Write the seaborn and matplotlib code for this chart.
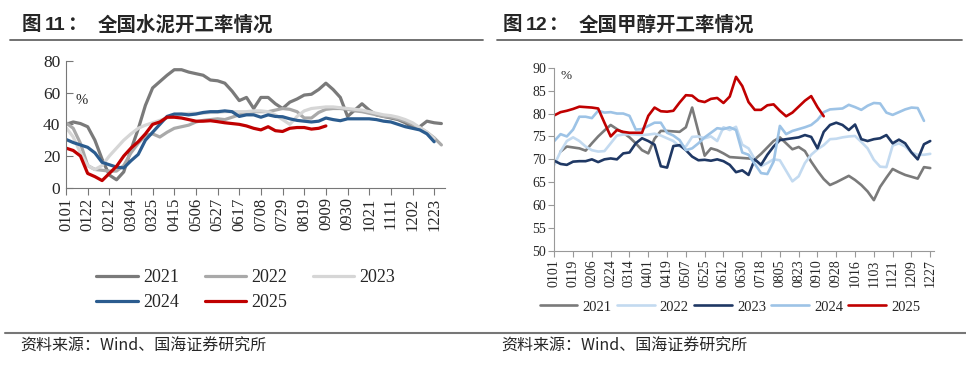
import numpy as np
import pandas as pd
import matplotlib
matplotlib.use('Agg')
import matplotlib.pyplot as plt
import seaborn as sns

nan = np.nan

# ---- 图11 全国水泥开工率 (weekly, %) ----
cement_ticks = ['0101', '0122', '0212', '0304', '0325', '0415', '0506', '0527', '0617',
                '0708', '0729', '0819', '0909', '0930', '1021', '1111', '1202', '1223']
cement_2021 = [40, 41.5, 40.5, 38.5, 30, 18, 8, 5, 10, 24, 37, 52, 63, 67, 71, 74.5, 74.5, 73,
               72, 71, 68, 67.5, 66, 61, 55, 57, 50, 57, 57, 53, 50, 54, 56, 58.5, 59, 62, 66,
               62, 57, 45, 49, 53, 49, 46, 45, 44, 43, 41, 38, 38.5, 42, 41, 40.5]
cement_2022 = [41, 37.5, 28, 14, 11.5, 11, 10.5, 10.5, 14, 22, 28, 33, 34, 32, 35, 37.5, 38.5,
               39.5, 41.5, 42.5, 43, 43.5, 43, 44.5, 46, 47, 48, 48, 48, 49, 50, 49.5, 48, 44,
               44, 47.5, 49.5, 50, 50, 49.5, 48.5, 48, 47, 46, 45, 44.5, 43.5, 42, 40, 38, 35,
               31.5, 27]
cement_2023 = [38, 32, 22, 14, 11.5, 14, 20, 25, 30, 34, 37.5, 39.5, 41, 42.5, 44, 46, 46.5,
               47, 47, 47, 47.5, 47.5, 48, 48, 48, 48, 48.5, 48.5, 48, 46, 43, 40, 45, 48.5,
               50, 50.5, 51, 51, 50.5, 50, 49.5, 49, 48, 47, 46, 45.5, 44.5, 43, 41, 38, 35,
               31, nan]
cement_2024 = [30.5, 28.5, 27, 25.5, 22, 16, 14.5, 13, 12.5, 17, 21, 30, 35, 40, 45, 46.5,
               46.5, 46, 46.5, 47.5, 48, 48, 48.5, 48, 45, 46, 46, 44.5, 46, 45, 44.8, 43.5,
               42.5, 42, 41.5, 42, 44, 43, 42.3, 43.5, 43.5, 43.5, 43.5, 43, 42, 41.5, 40,
               38.5, 37.5, 36.5, 34, 29, nan]
cement_2025 = [25, 23.5, 20, 9, 7, 4.5, 9, 13.5, 20, 25, 29, 34, 40, 41.5, 44.5, 44.5, 44, 43,
               42, 42, 42.3, 41.7, 41, 40.5, 40, 39, 37.5, 36.5, 38.5, 36, 35.5, 37.5, 38, 38,
               37, 37.5, 39] + [nan] * 16

# ---- 图12 全国甲醇开工率 (%) ----
meth_ticks = ['0101', '0119', '0206', '0224', '0314', '0401', '0419', '0507', '0525', '0612',
              '0630', '0718', '0805', '0823', '0910', '0928', '1016', '1103', '1121', '1209',
              '1227']
meth_2021 = [nan, 71.7, 72.8, 72.6, 72.4, 71.9, 73.5, 75, 76.3, 77.5, 76.6, 75.8, 74.8, 73.5,
             72, 71.3, 74.5, 76.2, 76.2, 76.1, 76, 77, 81.3, 76, 70.8, 72.4, 72, 71.3, 70.5,
             70.4, 70.3, 70.2, 70, 71.2, 72.6, 74, 74.8, 73.5, 72.2, 72.7, 71.8, 69.5, 67.5,
             65.7, 64.4, 65, 65.7, 66.4, 65.5, 64.4, 63, 61.1, 64, 66, 67.9, 67.2, 66.6, 66.2,
             65.8, 68.3, 68.1]
meth_2022 = [68.8, 71.7, 74, 74.8, 74, 72.8, 72, 71.7, 71.8, 73.5, 75.2, 75.4, 75.5, 75.4, 75.3,
             75.4, 75.6, 75.2, 74.6, 74, 72.8, 72.8, 74.9, 75, 74.6, 75, 74, 77, 76.4, 77.1,
             73.2, 72.4, 70, 68.5, 69.2, 70, 69.8, 67.5, 65.2, 66.3, 69.2, 71, 72.2, 73.1, 74.4,
             74.5, 74.8, 75, 75.1, 73.8, 72.4, 69.9, 68.4, 68.3, 73, 73.5, 72.8, 71.5, 71, 71,
             71.2]
meth_2023 = [69.7, 69.0, 68.8, 69.5, 69.6, 69.6, 70, 69.4, 70, 70.2, 70, 71.3, 71.5, 73.5, 74.6,
             74, 73.2, 68.5, 68.2, 72.9, 73.1, 72, 70.6, 69.8, 69.9, 69.7, 70, 69.6, 68.8, 67.2,
             67.6, 66.6, 70, 68.8, 71, 72.8, 74.2, 74.4, 74.6, 74.8, 75.3, 74.9, 72.4, 76, 77.5,
             78, 77.5, 76.4, 77.6, 74.4, 74, 74.4, 74.6, 75.3, 73.5, 74.3, 73.5, 71.5, 70, 73.3,
             74]
meth_2024 = [74, 75.5, 75, 76.5, 79.3, 79.3, 79, 80.6, 80.2, 80.3, 80, 80, 79.5, 76.5, 76.6,
             77.3, 78, 78, 75.8, 75.2, 74.2, 72, 72.4, 73.5, 74.8, 75.8, 76.8, 76.6, 77, 76.4,
             71.5, 71, 69, 67, 66.8, 69.5, 77.3, 75.5, 76.2, 76.6, 77, 77.5, 78.6, 80.3, 80.9,
             81, 81.1, 81.9, 81.4, 80.8, 81.7, 82.3, 82.2, 80.2, 79.7, 80.3, 80.9, 81.3, 81.2,
             78.4, nan]
meth_2025 = [79.6, 80.3, 80.6, 81, 81.5, 81.4, 81.3, 81.1, 78, 75, 76.4, 76, 75.8, 75.8, 75.8,
             79.5, 81.3, 80.5, 80.4, 80.6, 82.4, 84, 83.9, 82.8, 82.5, 83.2, 83.4, 82.3, 83.7,
             88, 86, 82.5, 80.8, 80.8, 81.8, 82, 80.6, 79.4, 80.2, 81.5, 82.8, 83.8, 81.4,
             79.4] + [nan] * 17

years = ['2021', '2022', '2023', '2024', '2025']
cement_pal = {'2021': '#7a7a7a', '2022': '#a9a9a9', '2023': '#d6d6d6',
              '2024': '#2b5c8f', '2025': '#c00000'}
meth_pal = {'2021': '#7a7a7a', '2022': '#c3daf0', '2023': '#1f3864',
            '2024': '#9dc3e6', '2025': '#c00000'}


def to_long(series):
    frames = []
    for yr, vals in zip(years, series):
        frames.append(pd.DataFrame({'x': np.arange(len(vals)), 'v': vals, 'year': yr}))
    return pd.concat(frames, ignore_index=True).dropna()


cement = to_long([cement_2021, cement_2022, cement_2023, cement_2024, cement_2025])
meth = to_long([meth_2021, meth_2022, meth_2023, meth_2024, meth_2025])

sns.set_style('ticks')
plt.rcParams['font.family'] = ['Liberation Serif', 'DejaVu Sans']
cjk = ['Noto Sans CJK SC', 'DejaVu Sans']

W, H = 966, 368
fig = plt.figure(figsize=(W / 100, H / 100), dpi=100)

# left chart
ax1 = fig.add_axes([66 / W, 1 - 187.7 / H, (445 - 66) / W, (187.7 - 61) / H])
sns.lineplot(data=cement, x='x', y='v', hue='year', palette=cement_pal, hue_order=years,
             linewidth=2.3, sort=False, ax=ax1)
ax1.set_xlim(0, 52.5)
ax1.set_ylim(0, 80)
ax1.set_yticks(range(0, 81, 20))
ax1.set_xticks(range(0, 52, 3))
ax1.set_xticklabels(cement_ticks, rotation=90, fontsize=12)
ax1.tick_params(axis='y', direction='in', length=5, labelsize=12.5, color='#777777', pad=4)
ax1.tick_params(axis='x', direction='out', length=5, color='#777777', pad=2)
ax1.set_xlabel('')
ax1.set_ylabel('')
sns.despine(ax=ax1)
for s in ['left', 'bottom']:
    ax1.spines[s].set_color('#777777')
ax1.text(82 / W, 1 - 100 / H, '%', transform=fig.transFigure, fontsize=10.5,
         ha='center', va='center')
h, l = ax1.get_legend_handles_labels()
idx = [0, 3, 1, 4, 2]
ax1.legend([h[i] for i in idx], [l[i] for i in idx], ncol=3, loc='center',
           bbox_to_anchor=(246 / W, 1 - 290 / H), bbox_transform=fig.transFigure,
           frameon=False, fontsize=13, handlelength=2.3, handletextpad=0.3,
           columnspacing=1.4, labelspacing=0.45)

# right chart
ax2 = fig.add_axes([554.3 / W, 1 - 251 / H, (934 - 554.3) / W, (251 - 67.7) / H])
sns.lineplot(data=meth, x='x', y='v', hue='year', palette=meth_pal, hue_order=years,
             linewidth=1.9, sort=False, ax=ax2)
ax2.set_xlim(0, 60.6)
ax2.set_ylim(50, 90)
ax2.set_yticks(range(50, 91, 5))
ax2.set_xticks(range(0, 61, 3))
ax2.set_xticklabels(meth_ticks, rotation=90, fontsize=10)
ax2.tick_params(axis='y', direction='out', length=4, labelsize=10, color='#999999', pad=2)
ax2.tick_params(axis='x', direction='out', length=4, color='#999999', pad=2)
ax2.set_xlabel('')
ax2.set_ylabel('')
sns.despine(ax=ax2)
for s in ['left', 'bottom']:
    ax2.spines[s].set_color('#999999')
ax2.text(566 / W, 1 - 76 / H, '%', transform=fig.transFigure, fontsize=9.5,
         ha='center', va='center')
h, l = ax2.get_legend_handles_labels()
ax2.legend(h, l, ncol=5, loc='center', bbox_to_anchor=(730 / W, 1 - 307 / H),
           bbox_transform=fig.transFigure, frameon=False, fontsize=10.5,
           handlelength=2.6, handletextpad=0.35, columnspacing=0.35)

# titles and source notes
ty = 1 - 25 / H
for x0, num, name in [(22, '11', '全国水泥开工率情况'), (503, '12', '全国甲醇开工率情况')]:
    fig.text(x0 / W, ty, '图', family=cjk, fontsize=14, fontweight='bold', va='center')
    fig.text((x0 + 23) / W, ty, num, family='Liberation Sans', fontsize=14,
             fontweight='bold', va='center')
    fig.text((x0 + 46) / W, ty, '：', family=cjk, fontsize=14, fontweight='bold', va='center')
    fig.text((x0 + 76) / W, ty, name, family=cjk, fontsize=14, fontweight='bold', va='center')
    fig.text((x0 - 2) / W, 1 - 346 / H, '资料来源：Wind、国海证券研究所', family=cjk,
             fontsize=11.5, va='center')

fig.add_artist(plt.Line2D([10 / W, 483 / W], [1 - 40 / H] * 2, color='#666666', lw=1.3))
fig.add_artist(plt.Line2D([497 / W, 962 / W], [1 - 40 / H] * 2, color='#666666', lw=1.3))
fig.add_artist(plt.Line2D([5 / W, 1.0], [1 - 333 / H] * 2, color='#777777', lw=1.5))

fig.savefig('out.png', dpi=100)
